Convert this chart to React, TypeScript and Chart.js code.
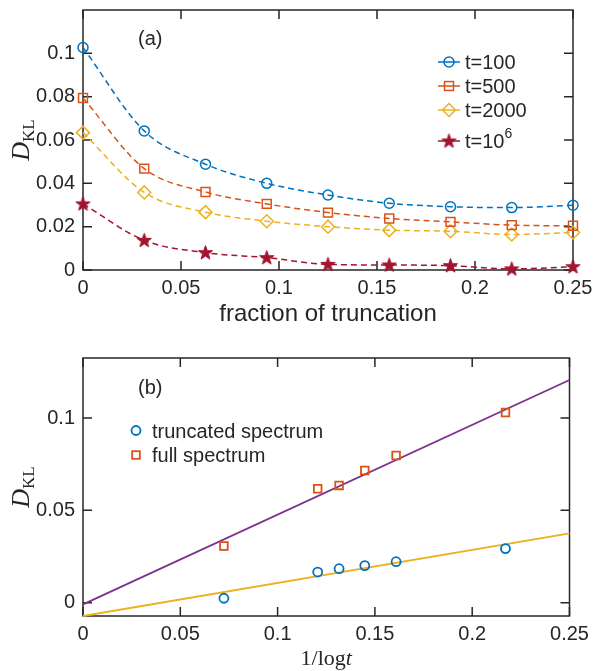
import React, { useEffect, useRef } from 'react';
import { Chart, registerables } from 'chart.js';

Chart.register(...registerables);

// ---------- Panel (a) data ----------
const truncationFractions = [0, 0.03125, 0.0625, 0.09375, 0.125, 0.15625, 0.1875, 0.21875, 0.25];
const dklT100 = [0.1027, 0.0642, 0.0488, 0.04, 0.0346, 0.0308, 0.0292, 0.0288, 0.0299];
const dklT500 = [0.0794, 0.0468, 0.036, 0.0305, 0.0265, 0.0238, 0.0222, 0.0207, 0.0204];
const dklT2000 = [0.0634, 0.0358, 0.0267, 0.0225, 0.02, 0.0184, 0.0179, 0.0164, 0.0173];
const dklT1e6 = [0.0305, 0.0137, 0.008, 0.0057, 0.0026, 0.0023, 0.002, 0.0005, 0.0015];
const seriesLabelsA = ['t=100', 't=500', 't=2000', 't=10^6'];
const xTicksA = [0, 0.05, 0.1, 0.15, 0.2, 0.25];
const yTicksA = [0, 0.02, 0.04, 0.06, 0.08, 0.1];

// ---------- Panel (b) data ----------
const invLogT = [0.0724, 0.1206, 0.1316, 0.1448, 0.1609, 0.2171];
const dklTruncated = [0.0024, 0.0166, 0.0184, 0.0201, 0.0222, 0.0293];
const dklFull = [0.0307, 0.0617, 0.0635, 0.0716, 0.0797, 0.103];
const fitX = [0, 0.25];
const fitFull = [-0.0009, 0.1206];
const fitTruncated = [-0.0072, 0.0376];
const seriesLabelsB = ['truncated spectrum', 'full spectrum'];
const xTicksB = [0, 0.05, 0.1, 0.15, 0.2, 0.25];
const yTicksB = [0, 0.05, 0.1];

// ---------- styles ----------
const BLUE = '#0072BD';
const ORANGE = '#D95319';
const YELLOW = '#EDB120';
const DARKRED = '#A2142F';
const PURPLE = '#7E2F8E';
const INK = '#262626';
const SANS = "'Liberation Sans', Arial, Helvetica, sans-serif";
const SERIF = "'Liberation Serif', 'Times New Roman', serif";

type Part = { text: string; font: string; dy?: number };

function drawRich(ctx: CanvasRenderingContext2D, parts: Part[], x: number, y: number, align: 'left' | 'center') {
  ctx.save();
  ctx.textBaseline = 'alphabetic';
  ctx.textAlign = 'left';
  ctx.fillStyle = INK;
  let total = 0;
  const widths = parts.map((p) => {
    ctx.font = p.font;
    const w = ctx.measureText(p.text).width;
    total += w;
    return w;
  });
  let cx = align === 'center' ? x - total / 2 : x;
  parts.forEach((p, i) => {
    ctx.font = p.font;
    ctx.fillText(p.text, cx, y + (p.dy || 0));
    cx += widths[i];
  });
  ctx.restore();
}

function labelParts(label: string, size: number): Part[] {
  const idx = label.indexOf('^');
  if (idx < 0) return [{ text: label, font: `${size}px ${SANS}` }];
  return [
    { text: label.slice(0, idx), font: `${size}px ${SANS}` },
    { text: label.slice(idx + 1), font: `${Math.round(size * 0.7)}px ${SANS}`, dy: -Math.round(size * 0.5) },
  ];
}

function makeStar(color: string, outerR: number): HTMLCanvasElement {
  const size = Math.ceil(outerR * 2 + 4);
  const c = document.createElement('canvas');
  c.width = size;
  c.height = size;
  const g = c.getContext('2d')!;
  const cx = size / 2;
  const cy = size / 2 + outerR * 0.05;
  g.beginPath();
  for (let i = 0; i < 10; i++) {
    const rr = i % 2 === 0 ? outerR : outerR * 0.4;
    const a = -Math.PI / 2 + (i * Math.PI) / 5;
    g.lineTo(cx + rr * Math.cos(a), cy + rr * Math.sin(a));
  }
  g.closePath();
  g.fillStyle = color;
  g.fill();
  g.lineWidth = 1;
  g.strokeStyle = color;
  g.stroke();
  return c;
}

function drawMarker(ctx: CanvasRenderingContext2D, ds: any, x: number, y: number) {
  const style = ds.pointStyle;
  const r = ds.pointRadius;
  ctx.save();
  ctx.setLineDash([]);
  ctx.strokeStyle = ds.pointBorderColor;
  ctx.lineWidth = ds.pointBorderWidth;
  if (typeof style === 'object' && style && (style as HTMLCanvasElement).width) {
    const c = style as HTMLCanvasElement;
    ctx.drawImage(c, x - c.width / 2, y - c.height / 2);
  } else if (style === 'circle') {
    ctx.beginPath();
    ctx.arc(x, y, r, 0, Math.PI * 2);
    ctx.stroke();
  } else if (style === 'rect') {
    const s = r * Math.SQRT1_2;
    ctx.strokeRect(x - s, y - s, 2 * s, 2 * s);
  } else if (style === 'rectRot') {
    ctx.beginPath();
    ctx.moveTo(x, y - r);
    ctx.lineTo(x + r, y);
    ctx.lineTo(x, y + r);
    ctx.lineTo(x - r, y);
    ctx.closePath();
    ctx.stroke();
  }
  ctx.restore();
}

const matlabAxes = {
  id: 'matlabAxes',
  beforeDatasetsDraw(chart: any, _args: any, opts: any) {
    const { ctx, chartArea: ca } = chart;
    const xs = chart.scales.x;
    const ys = chart.scales.y;
    const len = opts.tickLength ?? 9;
    ctx.save();
    ctx.strokeStyle = INK;
    ctx.lineWidth = opts.lineWidth ?? 1.5;
    ctx.beginPath();
    xs.ticks.forEach((t: any) => {
      const p = xs.getPixelForValue(t.value);
      ctx.moveTo(p, ca.bottom);
      ctx.lineTo(p, ca.bottom - len);
      ctx.moveTo(p, ca.top);
      ctx.lineTo(p, ca.top + len);
    });
    ys.ticks.forEach((t: any) => {
      const p = ys.getPixelForValue(t.value);
      ctx.moveTo(ca.left, p);
      ctx.lineTo(ca.left + len, p);
      ctx.moveTo(ca.right, p);
      ctx.lineTo(ca.right - len, p);
    });
    ctx.stroke();
    ctx.strokeRect(ca.left, ca.top, ca.right - ca.left, ca.bottom - ca.top);
    ctx.restore();
  },
};

const matlabLegend = {
  id: 'matlabLegend',
  afterDraw(chart: any, _args: any, opts: any) {
    const { ctx, chartArea: ca } = chart;
    const textX = ca.left + opts.textDx;
    let base = ca.top + opts.firstBaselineDy;
    chart.data.datasets.forEach((ds: any) => {
      if (!ds.label) return;
      const hasSup = ds.label.includes('^');
      if (hasSup) base += opts.supExtra;
      const my = base - 7;
      const mx = textX - opts.markerGap;
      if (opts.lineHalf > 0) {
        ctx.save();
        ctx.strokeStyle = ds.borderColor;
        ctx.lineWidth = ds.borderWidth;
        ctx.beginPath();
        ctx.moveTo(mx - opts.lineHalf, my);
        ctx.lineTo(mx + opts.lineHalf, my);
        ctx.stroke();
        ctx.restore();
      }
      drawMarker(ctx, ds, mx, my);
      drawRich(ctx, labelParts(ds.label, 20), textX, base, 'left');
      base += opts.rowHeight;
    });
  },
};

const annotations = {
  id: 'annotations',
  afterDraw(chart: any, _args: any, opts: any) {
    const { ctx, chartArea: ca } = chart;
    if (opts.yTitle) {
      ctx.save();
      ctx.translate(opts.yTitle.x, (ca.top + ca.bottom) / 2);
      ctx.rotate(-Math.PI / 2);
      drawRich(ctx, opts.yTitle.parts, 0, 0, 'center');
      ctx.restore();
    }
    if (opts.xTitle) {
      drawRich(ctx, opts.xTitle.parts, (ca.left + ca.right) / 2, opts.xTitle.y, 'center');
    }
    if (opts.panel) {
      drawRich(ctx, [{ text: opts.panel.text, font: `20px ${SANS}` }], ca.left + opts.panel.dx, ca.top + opts.panel.dy, 'left');
    }
  },
};

const fmtTick = (v: any) => String(parseFloat(Number(v).toFixed(4)));

const dklParts: Part[] = [
  { text: 'D', font: `italic 26px ${SERIF}` },
  { text: 'KL', font: `17px ${SERIF}`, dy: 5 },
];

function axisScales(xTicks: number[], yTicks: number[], xRange: number[], yRange: number[], xHeight: number) {
  const tickFont = { family: SANS, size: 20 };
  return {
    x: {
      type: 'linear',
      min: xRange[0],
      max: xRange[1],
      grid: { display: false, drawTicks: false },
      border: { display: false },
      ticks: { padding: 6, font: tickFont, color: INK, callback: fmtTick, maxRotation: 0, autoSkip: false },
      afterBuildTicks: (s: any) => {
        s.ticks = xTicks.map((v) => ({ value: v }));
      },
      afterFit: (s: any) => {
        s.height = xHeight;
        s.paddingLeft = 0;
        s.paddingRight = 0;
      },
    },
    y: {
      type: 'linear',
      min: yRange[0],
      max: yRange[1],
      grid: { display: false, drawTicks: false },
      border: { display: false },
      ticks: { padding: 8, font: tickFont, color: INK, callback: fmtTick, autoSkip: false },
      afterBuildTicks: (s: any) => {
        s.ticks = yTicks.map((v) => ({ value: v }));
      },
      afterFit: (s: any) => {
        s.width = 83;
        s.paddingTop = 0;
        s.paddingBottom = 0;
      },
    },
  };
}

const toPts = (xs: number[], ys: number[]) => xs.map((x, i) => ({ x, y: ys[i] }));

export default function App() {
  const topRef = useRef<HTMLCanvasElement>(null);
  const botRef = useRef<HTMLCanvasElement>(null);

  useEffect(() => {
    const star = makeStar(DARKRED, 7.5);
    const dashed = (label: string, data: number[], color: string, style: any, radius: number) => ({
      label,
      data: toPts(truncationFractions, data),
      borderColor: color,
      backgroundColor: 'rgba(0,0,0,0)',
      borderWidth: 1.5,
      borderDash: [6, 4],
      pointStyle: style,
      pointRadius: radius,
      pointBorderWidth: 1.5,
      pointBorderColor: color,
      pointBackgroundColor: 'rgba(0,0,0,0)',
      cubicInterpolationMode: 'monotone',
      clip: false,
    });

    const top = new Chart(topRef.current!, {
      type: 'line',
      data: {
        datasets: [
          dashed(seriesLabelsA[0], dklT100, BLUE, 'circle', 5),
          dashed(seriesLabelsA[1], dklT500, ORANGE, 'rect', 6.3),
          dashed(seriesLabelsA[2], dklT2000, YELLOW, 'rectRot', 6.5),
          dashed(seriesLabelsA[3], dklT1e6, DARKRED, star, 7.5),
        ] as any,
      },
      options: {
        responsive: false,
        animation: false,
        devicePixelRatio: 1,
        layout: { padding: { left: 0, top: 10, right: 20, bottom: 0 } },
        scales: axisScales(xTicksA, yTicksA, [0, 0.25], [0, 0.12], 60) as any,
        plugins: {
          legend: { display: false },
          tooltip: { enabled: false },
          matlabAxes: { tickLength: 9, lineWidth: 1.5 },
          matlabLegend: { textDx: 382, firstBaselineDy: 59, rowHeight: 24, supExtra: 7, markerGap: 16, lineHalf: 11 },
          annotations: {
            yTitle: { x: 29, parts: dklParts },
            xTitle: { y: 321, parts: [{ text: 'fraction of truncation', font: `24px ${SANS}` }] },
            panel: { text: '(a)', dx: 55, dy: 35 },
          },
        } as any,
      },
      plugins: [matlabAxes, matlabLegend, annotations],
    });

    const scatter = (label: string, ys: number[], color: string, style: string, radius: number) => ({
      label,
      data: toPts(invLogT, ys),
      showLine: false,
      borderColor: color,
      backgroundColor: 'rgba(0,0,0,0)',
      borderWidth: 0,
      pointStyle: style,
      pointRadius: radius,
      pointBorderWidth: 1.8,
      pointBorderColor: color,
      pointBackgroundColor: 'rgba(0,0,0,0)',
      clip: false,
    });
    const fitLine = (ys: number[], color: string) => ({
      data: toPts(fitX, ys),
      borderColor: color,
      backgroundColor: 'rgba(0,0,0,0)',
      borderWidth: 1.8,
      pointRadius: 0,
      tension: 0,
      clip: false,
    });

    const bot = new Chart(botRef.current!, {
      type: 'line',
      data: {
        datasets: [
          scatter(seriesLabelsB[0], dklTruncated, BLUE, 'circle', 4.5),
          scatter(seriesLabelsB[1], dklFull, ORANGE, 'rect', 5.4),
          fitLine(fitFull, PURPLE),
          fitLine(fitTruncated, YELLOW),
        ] as any,
      },
      options: {
        responsive: false,
        animation: false,
        devicePixelRatio: 1,
        layout: { padding: { left: 0, top: 28, right: 23.5, bottom: 0 } },
        scales: axisScales(xTicksB, yTicksB, [0, 0.25], [-0.0072, 0.1325], 55) as any,
        plugins: {
          legend: { display: false },
          tooltip: { enabled: false },
          matlabAxes: { tickLength: 9, lineWidth: 1.5 },
          matlabLegend: { textDx: 69, firstBaselineDy: 79.5, rowHeight: 24.5, supExtra: 0, markerGap: 16, lineHalf: 0 },
          annotations: {
            yTitle: { x: 29, parts: dklParts },
            xTitle: {
              y: 335,
              parts: [
                { text: '1/log', font: `22px ${SERIF}` },
                { text: 't', font: `italic 22px ${SERIF}` },
              ],
            },
            panel: { text: '(b)', dx: 55, dy: 35.5 },
          },
        } as any,
      },
      plugins: [matlabAxes, matlabLegend, annotations],
    });

    return () => {
      top.destroy();
      bot.destroy();
    };
  }, []);

  return (
    <div style={{ position: 'absolute', left: 0, top: 0, width: 593, height: 671, background: '#ffffff' }}>
      <canvas ref={topRef} width={593} height={330} style={{ position: 'absolute', left: 0, top: 0 }} />
      <canvas ref={botRef} width={593} height={341} style={{ position: 'absolute', left: 0, top: 330 }} />
    </div>
  );
}
